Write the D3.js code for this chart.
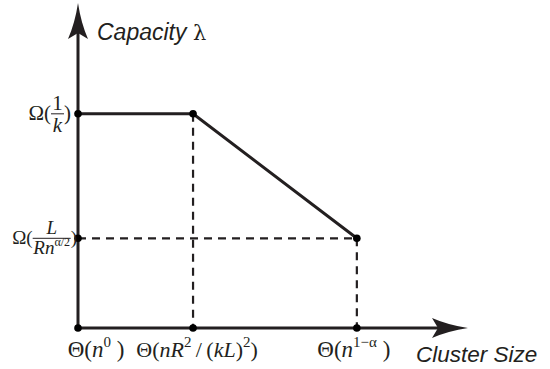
<!DOCTYPE html>
<html>
<head>
<meta charset="utf-8">
<script src="https://cdn.jsdelivr.net/npm/d3@7"></script>
<style>
  html, body { margin: 0; padding: 0; background: #fff; }
  svg { display: block; }
  .serif { font-family: "Liberation Serif", "Times New Roman", serif; fill: #231f20; }
  .sans { font-family: "Liberation Sans", Arial, sans-serif; font-style: italic; fill: #231f20; }
</style>
</head>
<body>
<svg id="chart" width="550" height="369"></svg>
<script>
// Abstract positions along each axis (arbitrary units)
const xTicks = [0, 29.5, 71.5];          // Θ(n^0), Θ(nR^2/(kL)^2), Θ(n^{1-α})
const yLevels = [0, 27.6, 65.9];         // 0, Ω(L/(Rn^{α/2})), Ω(1/k)
// Capacity curve: flat, then decreasing
const curveX = [0, 29.5, 71.5];
const curveY = [65.9, 65.9, 27.6];
const axisLabels = ["Capacity", "Cluster Size"];

const ink = "#231f20";
const svg = d3.select("#chart");
const x = d3.scaleLinear().domain([0, 100]).range([78, 468]);
const y = d3.scaleLinear().domain([0, 100]).range([328, 3]);

// dashed guide lines
const dash = "8,6";
svg.append("line").attr("x1", x(0)).attr("x2", x(curveX[2]))
  .attr("y1", y(curveY[2])).attr("y2", y(curveY[2]))
  .attr("stroke", ink).attr("stroke-width", 2.2).attr("stroke-dasharray", dash);
[1, 2].forEach(i => {
  svg.append("line").attr("x1", x(curveX[i])).attr("x2", x(curveX[i]))
    .attr("y1", y(curveY[i])).attr("y2", y(0))
    .attr("stroke", ink).attr("stroke-width", 2.2).attr("stroke-dasharray", dash);
});

// axes lines
svg.append("line").attr("x1", x(0)).attr("x2", x(0)).attr("y1", y(0)).attr("y2", y(92))
  .attr("stroke", ink).attr("stroke-width", 3);
svg.append("line").attr("x1", x(0)).attr("x2", x(94)).attr("y1", y(0)).attr("y2", y(0))
  .attr("stroke", ink).attr("stroke-width", 3);

// arrow heads
const ax = x(0), ayTip = y(100);
svg.append("path")
  .attr("d", `M${ax},${ayTip} Q${ax + 3},${ayTip + 20} ${ax + 10},${ayTip + 36} L${ax},${ayTip + 30} L${ax - 10},${ayTip + 36} Q${ax - 3},${ayTip + 20} ${ax},${ayTip} Z`)
  .attr("fill", ink);
const bxTip = x(100), by = y(0);
svg.append("path")
  .attr("d", `M${bxTip},${by} Q${bxTip - 20},${by - 3} ${bxTip - 36},${by - 10} L${bxTip - 30},${by} L${bxTip - 36},${by + 10} Q${bxTip - 20},${by + 3} ${bxTip},${by} Z`)
  .attr("fill", ink);

// capacity curve
const line = d3.line().x((d, i) => x(curveX[i])).y((d, i) => y(curveY[i]));
svg.append("path").datum(curveX).attr("d", line)
  .attr("fill", "none").attr("stroke", ink).attr("stroke-width", 3);

// points
const pts = [
  [0, 0], [xTicks[1], 0], [xTicks[2], 0],
  [0, yLevels[1]], [0, yLevels[2]],
  [curveX[1], curveY[1]], [curveX[2], curveY[2]]
];
svg.selectAll("circle.pt").data(pts).enter().append("circle")
  .attr("class", "pt").attr("cx", d => x(d[0])).attr("cy", d => y(d[1]))
  .attr("r", 3.8).attr("fill", "#000");

// axis titles
const yt = svg.append("text").attr("class", "sans").attr("x", 97).attr("y", 40)
  .attr("font-size", 23);
yt.append("tspan").text(axisLabels[0] + " ");
yt.append("tspan").attr("font-style", "normal")
  .attr("font-family", "'DejaVu Serif', 'Liberation Serif', serif").attr("font-size", 21).text("λ");
svg.append("text").attr("class", "sans").attr("x", 416).attr("y", 362)
  .attr("font-size", 22.5).text(axisLabels[1]);

// x tick labels
const bl = 357;
function xLabel(cx, size, build) {
  const t = svg.append("text").attr("class", "serif").attr("y", bl)
    .attr("font-size", size).attr("text-anchor", "middle").attr("x", cx);
  build(t);
}
const sup = 15, rise = 10;
xLabel(x(xTicks[0]) + 18, 23, t => {
  t.append("tspan").text("Θ(");
  t.append("tspan").attr("font-style", "italic").text("n");
  t.append("tspan").attr("font-size", sup).attr("dy", -rise).text("0");
  t.append("tspan").attr("dy", rise).text(" )");
});
xLabel(x(xTicks[1]) + 4, 22, t => {
  t.append("tspan").text("Θ(");
  t.append("tspan").attr("font-style", "italic").text("nR");
  t.append("tspan").attr("font-size", sup).attr("dy", -rise).text("2");
  t.append("tspan").attr("dy", rise).text("\u2009/\u2009(");
  t.append("tspan").attr("font-style", "italic").text("kL");
  t.append("tspan").text(")");
  t.append("tspan").attr("font-size", sup).attr("dy", -rise).text("2");
  t.append("tspan").attr("dy", rise).text(")");
});
xLabel(x(xTicks[2]) - 3, 23, t => {
  t.append("tspan").text("Θ(");
  t.append("tspan").attr("font-style", "italic").text("n");
  t.append("tspan").attr("font-size", sup).attr("dy", -rise).text("1−α");
  t.append("tspan").attr("dy", rise).text(" )");
});

// y tick labels with stacked fractions
function yFrac(cy, omegaSize, fracSize, numBuild, denBuild, fracW, right) {
  const g = svg.append("g");
  const closeX = right;
  g.append("text").attr("class", "serif").attr("font-size", omegaSize)
    .attr("x", closeX).attr("y", cy + omegaSize * 0.3).attr("text-anchor", "end").text(")");
  const parenW = omegaSize * 0.333;
  const fracR = closeX - parenW;
  const fracL = fracR - fracW;
  const fc = (fracL + fracR) / 2;
  g.append("line").attr("x1", fracL).attr("x2", fracR).attr("y1", cy).attr("y2", cy)
    .attr("stroke", ink).attr("stroke-width", 1);
  const num = g.append("text").attr("class", "serif").attr("font-size", fracSize)
    .attr("x", fc).attr("y", cy - 4).attr("text-anchor", "middle");
  numBuild(num);
  const den = g.append("text").attr("class", "serif").attr("font-size", fracSize)
    .attr("x", fc).attr("y", cy + fracSize * 0.85).attr("text-anchor", "middle");
  denBuild(den);
  g.append("text").attr("class", "serif").attr("font-size", omegaSize)
    .attr("x", fracL).attr("y", cy + omegaSize * 0.3).attr("text-anchor", "end").text("Ω(");
}
yFrac(y(yLevels[2]), 21, 21,
  t => t.text("1"),
  t => t.append("tspan").attr("font-style", "italic").text("k"),
  13, 71);
yFrac(y(yLevels[1]), 19, 19,
  t => t.append("tspan").attr("font-style", "italic").text("L"),
  t => {
    t.append("tspan").attr("font-style", "italic").text("Rn");
    t.append("tspan").attr("font-size", 12).attr("dy", -8).text("α/2");
  },
  38, 77);
</script>
</body>
</html>
